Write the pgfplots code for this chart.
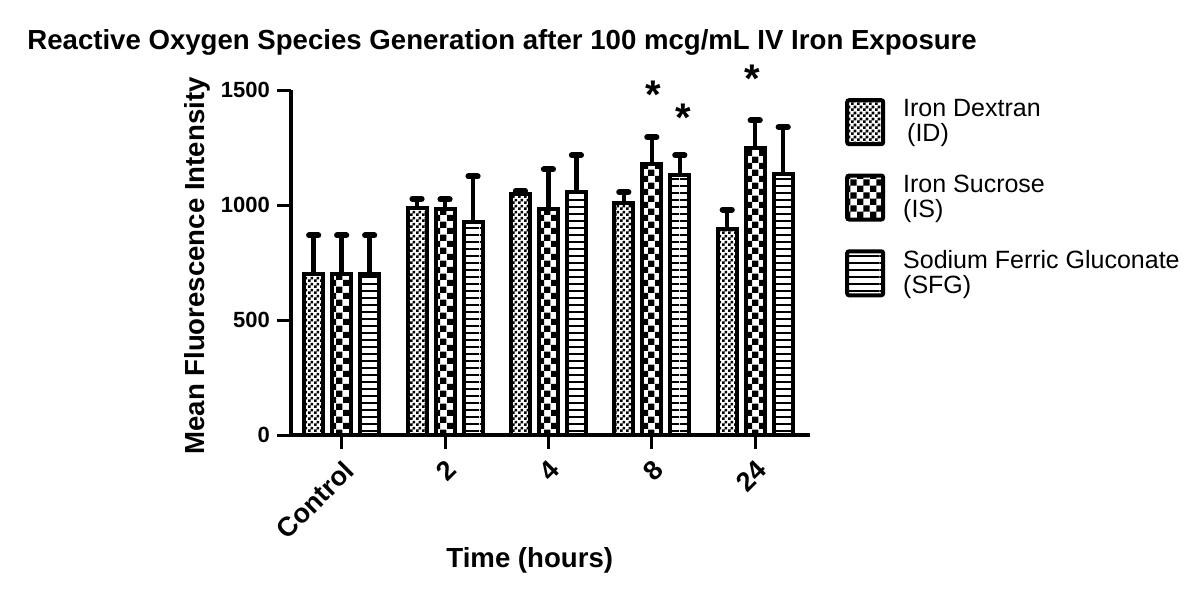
\documentclass[border=0pt]{standalone}
\usepackage{fontspec}
\setmainfont{Liberation Sans}
\usepackage{pgfplots}
\pgfplotsset{compat=1.18}
\usetikzlibrary{patterns}

% bar fills
\pgfdeclarepatternformonly{finechecker}{\pgfqpoint{0pt}{0pt}}{\pgfqpoint{2.8pt}{2.8pt}}{\pgfqpoint{2.8pt}{2.8pt}}{%
  \pgfpathrectangle{\pgfqpoint{0pt}{0pt}}{\pgfqpoint{1.4pt}{1.4pt}}%
  \pgfpathrectangle{\pgfqpoint{1.4pt}{1.4pt}}{\pgfqpoint{1.4pt}{1.4pt}}%
  \pgfusepath{fill}}
\pgfdeclarepatternformonly{coarsechecker}{\pgfqpoint{0pt}{0pt}}{\pgfqpoint{6.6pt}{6.6pt}}{\pgfqpoint{6.6pt}{6.6pt}}{%
  \pgfpathrectangle{\pgfqpoint{0pt}{0pt}}{\pgfqpoint{3.3pt}{3.3pt}}%
  \pgfpathrectangle{\pgfqpoint{3.3pt}{3.3pt}}{\pgfqpoint{3.3pt}{3.3pt}}%
  \pgfusepath{fill}}
\pgfdeclarepatternformonly{hstripes}{\pgfqpoint{0pt}{0pt}}{\pgfqpoint{20pt}{3.5pt}}{\pgfqpoint{20pt}{3.5pt}}{%
  \pgfpathrectangle{\pgfqpoint{0pt}{0pt}}{\pgfqpoint{20pt}{1pt}}%
  \pgfusepath{fill}}

\pgfplotsset{
  errstyle/.style={
    error bars/y dir=plus, error bars/y explicit,
    error bars/error mark=|,
    error bars/error bar style={line width=2.2pt, black},
    error bars/error mark options={/tikz/line width=3pt, /tikz/mark size=2.3pt, /tikz/line cap=round, black},
  },
}

\begin{document}
\begin{tikzpicture}
\path[use as bounding box] (-145.5pt,-82.5pt) rectangle (454.5pt,217.5pt);
\begin{axis}[
  at={(0,0)}, anchor=south west,
  scale only axis, width=259.5pt, height=172.5pt,
  xmin=-0.49, xmax=4.53, ymin=0, ymax=1500,
  axis lines=left, axis line style={line width=2pt, -},
  xtick={0,...,4}, xticklabels={Control,2,4,8,24},
  ytick={0,500,1000,1500},
  tick align=outside, major tick length=7pt,
  tick style={line width=1.5pt, black},
  x tick label style={rotate=45, anchor=north east, font=\bfseries\fontsize{13.5}{14}\selectfont},
  y tick label style={font=\bfseries\fontsize{11}{12}\selectfont},
  /pgf/number format/assume math mode=true,
  /pgf/number format/1000 sep={},
  ylabel={Mean Fluorescence Intensity},
  ylabel style={at={(axis description cs:-0.181,0.49)}, anchor=center, font=\bfseries\fontsize{13.8}{14}\selectfont},
  xlabel={Time (hours)},
  xlabel style={at={(axis description cs:0.46,-0.362)}, anchor=center, font=\bfseries\fontsize{13.8}{14}\selectfont},
  clip=false,
  ybar, bar width=9.5pt,
  legend style={at={(axis description cs:1.067,0.985)}, anchor=north west, draw=none, fill=none,
    inner sep=0pt, row sep=11pt, font=\fontsize{12.5}{12.5}\selectfont,
    cells={align=left, anchor=west}},
  legend cell align=left,
  legend image code/.code={\draw[#1, line width=2pt, rounded corners=1pt] (0pt,-11pt) rectangle (18pt,11pt);
    \path[draw=none, fill=none, pattern=none] (18pt,0pt) -- (26pt,0pt);},
]
\addplot[draw=black, line width=2pt, pattern=finechecker, bar shift=-14pt, errstyle]
  coordinates {(0,701) +- (0,167) (1,988) +- (0,39) (2,1049) +- (0,14) (3,1010) +- (0,46) (4,897) +- (0,82)};
\addplot[draw=black, line width=2pt, pattern=coarsechecker, bar shift=0pt, errstyle]
  coordinates {(0,701) +- (0,167) (1,981) +- (0,43) (2,984) +- (0,171) (3,1179) +- (0,116) (4,1249) +- (0,119)};
\addplot[draw=black, line width=2pt, pattern=hstripes, bar shift=14pt, errstyle]
  coordinates {(0,701) +- (0,167) (1,926) +- (0,198) (2,1056) +- (0,160) (3,1131) +- (0,85) (4,1136) +- (0,203)};
% significance stars
\addplot[forget plot, sharp plot, draw=none, nodes near coords={*},
  every node near coord/.style={anchor=center, font=\bfseries\fontsize{20}{20}\selectfont}]
  coordinates {(3.01,1478) (3.30,1378) (3.97,1548)};
\legend{{Iron Dextran\\\hspace*{2pt}(ID)}, {Iron Sucrose\\(IS)}, {Sodium Ferric Gluconate\\(SFG)}}
\end{axis}
\node[anchor=west, font=\bfseries\fontsize{13.8}{15}\selectfont, inner sep=0pt] at (-132pt,196.5pt)
  {Reactive Oxygen Species Generation after 100 mcg/mL IV Iron Exposure};
\end{tikzpicture}
\end{document}
